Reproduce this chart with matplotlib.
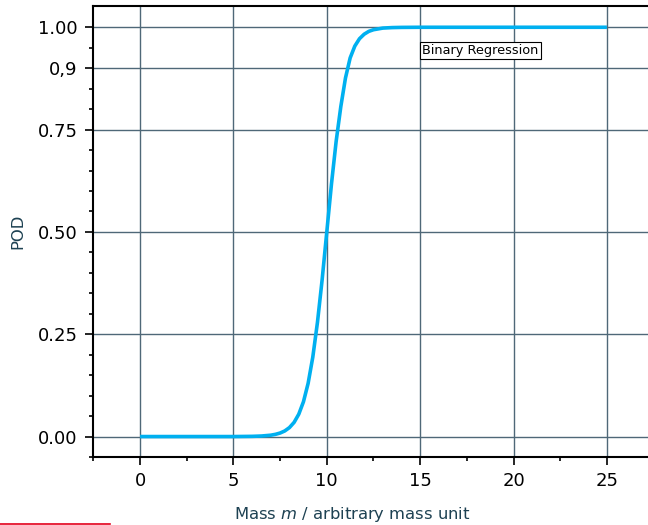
import matplotlib
matplotlib.use('Agg')
import matplotlib.pyplot as plt
from matplotlib.lines import Line2D

# POD curve (mass vs probability of detection)
mass = [0, 1, 2, 3, 4, 5, 6, 6.5, 7, 7.25, 7.5, 7.75, 8, 8.25, 8.5, 8.75,
        9, 9.25, 9.5, 9.75, 10, 10.25, 10.5, 10.75, 11, 11.25, 11.5, 11.75,
        12, 12.25, 12.5, 12.75, 13, 13.5, 14, 15, 17, 20, 22, 25]
pod = [0, 0, 0, 0, 0, 0, 0.0005, 0.0013, 0.0033, 0.0054, 0.0086, 0.0137,
       0.0219, 0.0347, 0.0547, 0.085, 0.13, 0.194, 0.279, 0.383, 0.5, 0.617,
       0.721, 0.806, 0.876, 0.925, 0.954, 0.972, 0.983, 0.99, 0.994, 0.996,
       0.998, 0.9992, 0.9997, 1.0, 1.0, 1.0, 1.0, 1.0]

yticks = [0.0, 0.25, 0.5, 0.75, 0.9, 1.0]
ytick_labels = ['0.00', '0.25', '0.50', '0.75', '0,9', '1.00']
xticks = [0, 5, 10, 15, 20, 25]

grid_col = '#4f6878'
label_col = '#1d4152'

fig = plt.figure(figsize=(6.48, 5.25), dpi=100)
ax = fig.add_axes([0.1435, 0.1295, 0.8565, 0.8591])

ax.plot(mass, pod, color='#00b0f0', lw=2.6, zorder=3, solid_capstyle='butt')

ax.set_xlim(-2.52, 27.2)
ax.set_ylim(-0.05, 1.052)

ax.set_xticks(xticks)
ax.set_xticks([-2.5, 2.5, 7.5, 12.5, 17.5, 22.5], minor=True)
ax.set_yticks(yticks)
ax.set_yticklabels(ytick_labels)
ax.set_yticks([-0.05, 0.05, 0.1, 0.15, 0.2, 0.3, 0.35, 0.4, 0.45, 0.55, 0.6,
               0.65, 0.7, 0.8, 0.85, 0.95], minor=True)

ax.tick_params(which='major', direction='out', length=6, width=1.2, labelsize=13, pad=5)
ax.tick_params(which='minor', direction='out', length=3, width=1.2)

ax.grid(True, which='major', color=grid_col, lw=1.0, zorder=1)
ax.spines['right'].set_visible(False)
for s in ['left', 'bottom', 'top']:
    ax.spines[s].set_linewidth(1.5)

ax.set_xlabel('Mass $m$ / arbitrary mass unit', fontsize=11.8, color=label_col)
ax.xaxis.set_label_coords(0.467, -0.107)
ax.set_ylabel('POD', fontsize=11.8, color=label_col, labelpad=9)

ax.text(15.12, 0.9436, 'Binary Regression', fontsize=9.3, ha='left', va='center', zorder=4,
        bbox=dict(boxstyle='square,pad=0.18', facecolor='white', edgecolor='black', lw=0.8))

# red mark at the bottom-left corner of the reference
fig.add_artist(Line2D([0, 110 / 648], [1.5 / 525, 1.5 / 525], color='#e3001b', lw=1.2))

fig.savefig('out.png', dpi=100)
